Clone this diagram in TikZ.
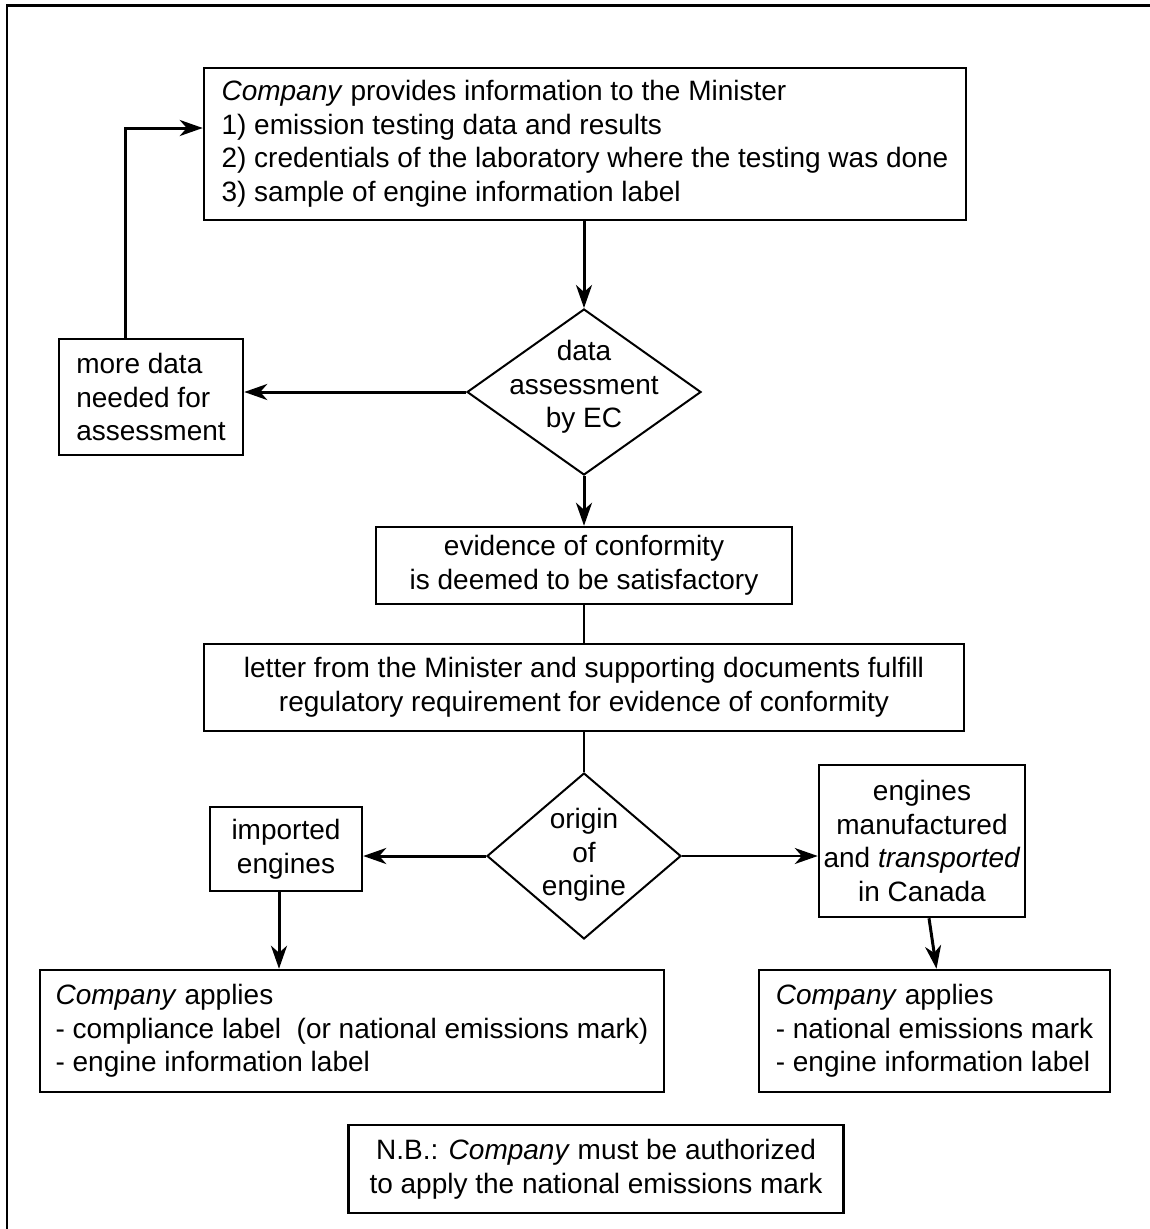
\documentclass[tikz,border=0pt]{standalone}
\usepackage{fontspec}
\setmainfont{Liberation Sans}
\usetikzlibrary{arrows.meta,shapes.geometric}
\begin{document}
\begin{tikzpicture}[x=1pt,y=-1pt,
  every node/.style={font=\fontsize{28}{33.5}\selectfont, inner sep=0pt},
  box/.style={draw, line width=2.5pt, rectangle},
  dia/.style={draw, line width=2pt, diamond},
  arr/.style={-{Stealth[length=23pt,width=16pt,inset=7pt]}, line width=3pt},
  thinarr/.style={-{Stealth[length=23pt,width=16pt,inset=7pt]}, line width=1.8pt},
  conn/.style={line width=2pt},
  frame/.style={line width=2.5pt}]
\useasboundingbox (0,0) rectangle (1150,1229);
% frame (top and left edges)
\coordinate (fr1) at (7,1229);
\coordinate (fr2) at (7,5.5);
\coordinate (fr3) at (1150,5.5);
\draw[frame] (fr1) -- (fr2) -- (fr3);

\node[box, minimum width=762, minimum height=152, align=left] (t) at (585,144)
  {\textit{Company} provides information to the Minister\\
   1) emission testing data and results\\
   2) credentials of the laboratory where the testing was done\\
   3) sample of engine information label};

\node[box, minimum width=184, minimum height=116, align=left] (md) at (151,397)
  {more data\\needed for\\assessment};

\node[dia, minimum width=234, minimum height=166] (d1) at (584,392) {};
\node[align=center] (d1t) at (584,387) {data\\assessment\\by EC};

\node[box, minimum width=416, minimum height=77, align=center] (ev) at (584,565.5)
  {evidence of conformity\\is deemed to be satisfactory};

\node[box, minimum width=760, minimum height=87, align=center] (lt) at (584,687.5)
  {letter from the Minister and supporting documents fulfill\\
   regulatory requirement for evidence of conformity};

\node[dia, minimum width=194, minimum height=166] (d2) at (584,856) {};
\node[align=center] (d2t) at (584,855) {origin\\of\\engine};

\node[box, minimum width=152, minimum height=84, align=center] (im) at (286,849)
  {imported\\engines};

\node[box, minimum width=206, minimum height=152, align=center] (rb) at (922,841)
  {engines\\manufactured\\and \textit{transported}\\in Canada};

\node[box, minimum width=624, minimum height=122, align=left] (bl) at (352,1031)
  {\textit{Company} applies\\
   - compliance label\ \ (or national emissions mark)\\
   - engine information label};

\node[box, minimum width=351, minimum height=122, align=left] (br) at (934.5,1031)
  {\textit{Company} applies\\
   - national emissions mark\\
   - engine information label};

\node[box, minimum width=495, minimum height=88, align=center] (nb) at (596,1169)
  {N.B.: \textit{Company} must be authorized\\
   to apply the national emissions mark};

% connectors
\coordinate (fb) at (125,128);
\draw[arr] (md.north -| fb) -- (fb) -- (fb -| t.west);
\draw[arr] (t.south -| d1.north) -- (d1.north);
\draw[arr] (d1.west) -- (d1.west -| md.east);
\draw[arr] (d1.south) -- (d1.south |- ev.north);
\draw[conn] (ev.south) -- (ev.south |- lt.north);
\draw[conn] (lt.south -| d2.north) -- (d2.north);
\draw[arr] (d2.west) -- (d2.west -| im.east);
\draw[thinarr] (d2.east) -- (d2.east -| rb.west);
\draw[arr] ([xshift=-7pt]im.south) -- ([xshift=-7pt]im.south |- bl.north);
\draw[arr] ([xshift=7pt]rb.south) -- ([xshift=2pt]br.north);
\end{tikzpicture}
\end{document}
